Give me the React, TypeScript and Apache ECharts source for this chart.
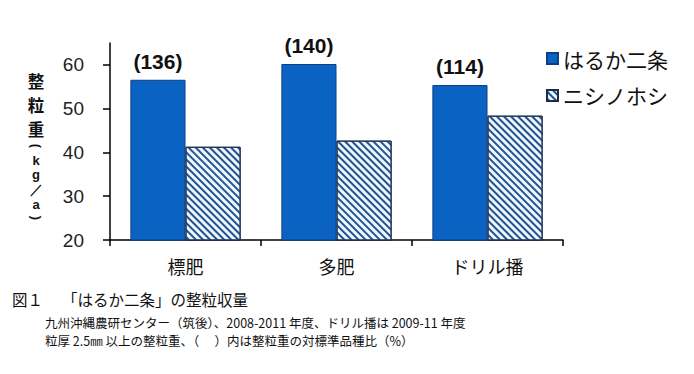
import React, { useEffect, useRef } from "react";
import * as echarts from "echarts";

const categories = ["標肥", "多肥", "ドリル播"];
const harukaNijo = [56.6, 60.2, 55.4];
const nishinohoshi = [41.3, 42.7, 48.4];
const ratioLabels = ["(136)", "(140)", "(114)"];
const yTicks = [20, 30, 40, 50, 60];
const seriesNames = ["はるか二条", "ニシノホシ"];
const yTitleChars = ["整", "粒", "重", "(", "k", "g", "／", "a", ")"];
const captionTitle = "図１　 「はるか二条」の整粒収量";
const captionLines = [
  "九州沖縄農研センター（筑後）、2008-2011 年度、ドリル播は 2009-11 年度",
  "粒厚 2.5㎜ 以上の整粒重、（　 ）内は整粒重の対標準品種比（%）",
];

const JP = '"Noto Sans CJK JP", sans-serif';

export default function App() {
  const ref = useRef<HTMLDivElement>(null);
  useEffect(() => {
    if (!ref.current) return;
    const chart = echarts.init(ref.current, undefined, { renderer: "svg" });
    const titleY = [81, 105, 129, 146, 160, 174, 189, 204, 218];
    chart.setOption({
      animation: false,
      backgroundColor: "#ffffff",
      grid: { left: 110, right: 131, top: 43, bottom: 134 },
      legend: {
        orient: "vertical",
        left: 541,
        top: 43,
        itemWidth: 11,
        itemHeight: 11,
        itemGap: 16,
        icon: "rect",
        data: seriesNames,
        textStyle: { fontFamily: JP, fontSize: 21, color: "#111" },
      },
      xAxis: {
        type: "category",
        data: categories,
        axisLine: { lineStyle: { color: "#000", width: 1.5 } },
        axisTick: { show: true, length: 6, lineStyle: { color: "#000", width: 1.5 } },
        axisLabel: { fontFamily: JP, fontSize: 18, color: "#111", margin: 17 },
      },
      yAxis: {
        type: "value",
        min: 20,
        max: 65,
        splitLine: { show: false },
        axisLine: { show: true, lineStyle: { color: "#000", width: 1.5 } },
        axisTick: {
          show: true,
          length: 7,
          customValues: yTicks,
          lineStyle: { color: "#000", width: 1.5 },
        },
        axisLabel: {
          customValues: yTicks,
          fontFamily: "Liberation Sans, Arial, sans-serif",
          fontSize: 19,
          color: "#222",
          margin: 26,
        },
      },
      series: [
        {
          name: seriesNames[0],
          type: "bar",
          data: harukaNijo,
          barGap: "0%",
          barCategoryGap: "27%",
          itemStyle: { color: "#0a62c2", borderColor: "#0b3f86", borderWidth: 1 },
          label: {
            show: true,
            position: "top",
            distance: 8,
            formatter: (p: any) => ratioLabels[p.dataIndex],
            fontFamily: '"Liberation Sans Narrow", "Liberation Sans", sans-serif',
            fontWeight: "bold",
            fontSize: 21,
            color: "#111",
          },
        },
        {
          name: seriesNames[1],
          type: "bar",
          data: nishinohoshi,
          itemStyle: {
            color: "#eef7ff",
            borderColor: "#1b2c4a",
            borderWidth: 1,
            decal: {
              symbol: "rect",
              symbolSize: 1,
              dashArrayX: [1, 0],
              dashArrayY: [1.5, 2.3],
              rotation: Math.PI / 4,
              color: "#23528c",
            },
          },
        },
      ],
      graphic: yTitleChars
        .map((c, i) => {
          const isKanji = i < 3;
          const isParen = c === "(" || c === ")";
          return {
            type: "text",
            x: 36,
            y: titleY[i],
            rotation: isParen ? -Math.PI / 2 : 0,
            style: {
              text: c,
              fontFamily: isKanji ? JP : '"Liberation Sans", Arial, sans-serif',
              fontWeight: "bold",
              fontSize: isKanji ? 16.5 : 13,
              fill: "#111",
              align: "center",
              verticalAlign: "middle",
            },
          } as any;
        })
        .concat([
          {
            type: "text",
            left: 12,
            top: 291,
            style: { text: captionTitle, fontFamily: JP, fontSize: 15.5, fill: "#111" },
          },
          ...captionLines.map((t, i) => ({
            type: "text",
            left: 45,
            top: 316 + i * 18,
            style: { text: t, fontFamily: JP, fontSize: 12.5, fill: "#111" },
          })),
        ]),
    });
    return () => chart.dispose();
  }, []);
  return <div ref={ref} style={{ width: 694, height: 374, position: "absolute", left: 0, top: 0 }} />;
}
